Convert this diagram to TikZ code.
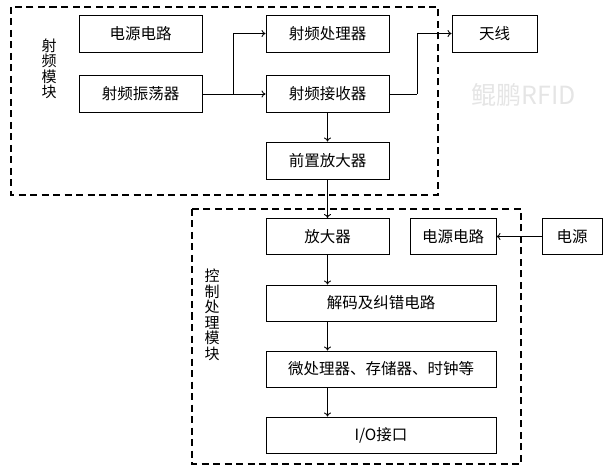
\documentclass[tikz,border=0pt]{standalone}
\usepackage{fontspec}
\setmainfont{Noto Sans CJK SC}
\usetikzlibrary{arrows.meta,positioning}

\begin{document}
\begin{tikzpicture}[
  x=1pt, y=-1pt,
  font=\fontsize{15.5}{17}\selectfont,
  box/.style={draw, line width=0.9pt, align=center, inner sep=0pt, minimum height=37pt},
  group/.style={draw, line width=1.6pt, dash pattern=on 7pt off 4.5pt},
  vlabel/.style={align=center, font=\fontsize{15}{15.5}\selectfont},
  arr/.style={-{To[length=4pt,width=7pt]}, line width=0.9pt}
]
\useasboundingbox (0,0) rectangle (613,470);
% radio module
\draw[group] (11,7) rectangle (438,195);
\node[vlabel] (rflab) at (49,69) {射\\频\\模\\块};
\node[box, minimum width=123pt] (pwra) at (140.5,33.5) {电源电路};
\node[box, minimum width=123pt] (osc) at (140.5,94) {射频振荡器};
\node[box, minimum width=123pt] (proc) at (327.5,33.5) {射频处理器};
\node[box, minimum width=123pt] (recv) at (327.5,94) {射频接收器};
\node[box, minimum width=123pt] (pre) at (327.5,160.5) {前置放大器};
\node[box, minimum width=85pt] (ant) at (494.5,33.5) {天线};
\node[text=black!10, font=\fontsize{25}{27}\selectfont] (mark) at (524,95) {鲲鹏RFID};
% control module
\draw[group] (192,209) rectangle (521,464);
\node[vlabel] (ctllab) at (212,315) {控\\制\\处\\理\\模\\块};
\node[box, minimum width=123pt, minimum height=36pt] (amp) at (327.5,236.5) {放大器};
\node[box, minimum width=86pt, minimum height=36pt] (pwrb) at (453,236.5) {电源电路};
\node[box, minimum width=60pt, minimum height=36pt] (src) at (572,236.5) {电源};
\node[box, minimum width=230pt, minimum height=36pt] (dec) at (381,303) {解码及纠错电路};
\node[box, minimum width=230pt, minimum height=36pt] (mcu) at (381,369) {微处理器、存储器、时钟等};
\node[box, minimum width=230pt, minimum height=36pt] (io) at (381,435) {I/O接口};
% connectors
\coordinate (br) at (233,94);
\coordinate (bend) at (417,94);
\draw[arr] (osc) -- (recv);
\draw[arr] (br) |- (proc);
\draw[line width=0.9pt] (recv) -- (bend);
\draw[arr] (bend) |- (ant);
\draw[arr] (recv) -- (pre);
\draw[arr] (pre) -- (amp);
\draw[arr] (amp) -- (amp |- dec.north);
\draw[arr] (amp |- dec.south) -- (amp |- mcu.north);
\draw[arr] (amp |- mcu.south) -- (amp |- io.north);
\draw[arr] (src) -- (pwrb);
\end{tikzpicture}
\end{document}
